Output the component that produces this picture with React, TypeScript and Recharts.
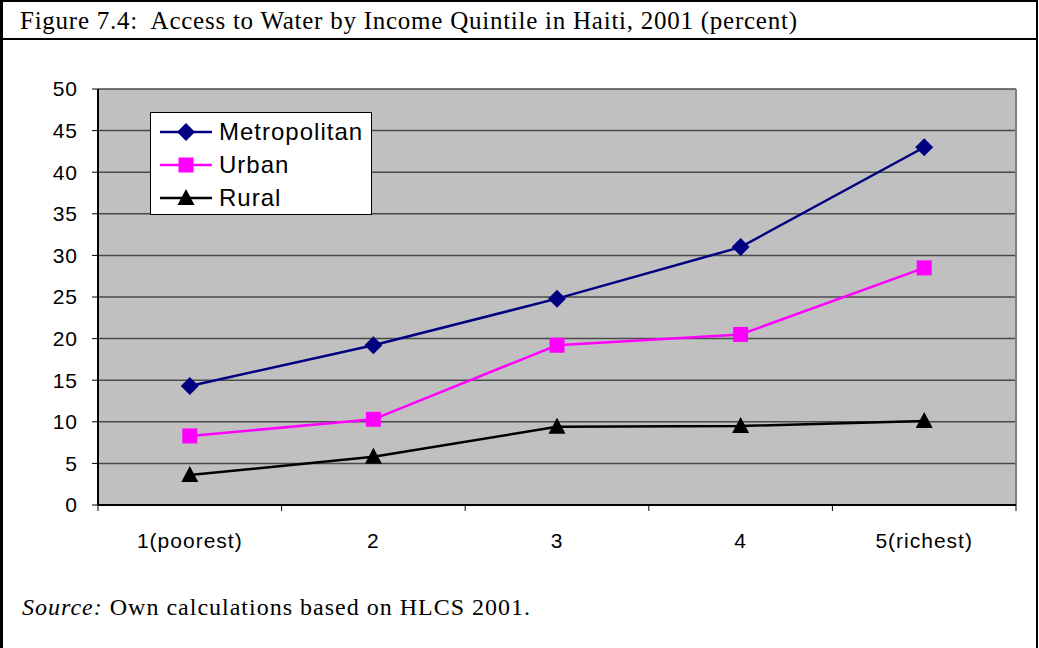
import React from "react"
import { CartesianGrid, Legend, Line, LineChart, ReferenceLine, XAxis, YAxis } from "recharts"

const quintiles = ["1(poorest)", "2", "3", "4", "5(richest)"]
const metropolitan = [14.3, 19.2, 24.8, 31.0, 43.0]
const urban = [8.3, 10.3, 19.2, 20.5, 28.5]
const rural = [3.6, 5.8, 9.4, 9.5, 10.1]
const yTicks = [0, 5, 10, 15, 20, 25, 30, 35, 40, 45, 50]

const data = quintiles.map((q, i) => ({
    quintile: q,
    pos: i + 0.5,
    metropolitan: metropolitan[i],
    urban: urban[i],
    rural: rural[i],
}))

// boundaries get tick marks, centres get the labels
const xTicks: number[] = []
for (let i = 0; i <= quintiles.length; i++) {
    xTicks.push(i)
    if (i < quintiles.length) xTicks.push(i + 0.5)
}

const axisFont = { fontFamily: "'Liberation Sans', Arial, sans-serif", fontSize: 21, letterSpacing: 1 }
const serif = "'Liberation Serif', 'Times New Roman', serif"

function Diamond({ cx, cy, fill }: any) {
    if (cx == null || cy == null) return null
    const h = 9
    return <polygon points={`${cx},${cy - h} ${cx + h},${cy} ${cx},${cy + h} ${cx - h},${cy}`} fill={fill} />
}

function Square({ cx, cy, fill }: any) {
    if (cx == null || cy == null) return null
    const s = 15
    return <rect x={cx - s / 2} y={cy - s / 2} width={s} height={s} fill={fill} />
}

function Triangle({ cx, cy, fill }: any) {
    if (cx == null || cy == null) return null
    return <polygon points={`${cx},${cy - 9} ${cx + 8.5},${cy + 7} ${cx - 8.5},${cy + 7}`} fill={fill} />
}

function XTick({ x, y, payload }: any) {
    const v = payload.value
    if (Number.isInteger(v)) {
        return <line x1={x} y1={y - 6} x2={x} y2={y} stroke="#000" strokeWidth={1} />
    }
    return (
        <text x={x} y={y + 37} textAnchor="middle" fill="#000" style={axisFont}>
            {quintiles[Math.floor(v)]}
        </text>
    )
}

const legendItems = [
    { name: "Metropolitan", color: "#000080", marker: "diamond" },
    { name: "Urban", color: "#FF00FF", marker: "square" },
    { name: "Rural", color: "#000000", marker: "triangle" },
]

function LegendBox() {
    return (
        <div style={{ width: 222, height: 103, background: "#fff", border: "1px solid #000", boxSizing: "border-box" }}>
            {legendItems.map((it, i) => (
                <div key={it.name} style={{ position: "absolute", left: 8, top: 3 + i * 33, height: 33, display: "flex", alignItems: "center" }}>
                    <svg width={56} height={24}>
                        <line x1={2} y1={12} x2={54} y2={12} stroke={it.color} strokeWidth={2.5} />
                        {it.marker === "diamond" && <Diamond cx={28} cy={12} fill={it.color} />}
                        {it.marker === "square" && <Square cx={28} cy={12} fill={it.color} />}
                        {it.marker === "triangle" && <Triangle cx={28} cy={12} fill={it.color} />}
                    </svg>
                    <span style={{ fontFamily: "'Liberation Sans', Arial, sans-serif", fontSize: 24, letterSpacing: 1, marginLeft: 5, color: "#000" }}>
                        {it.name}
                    </span>
                </div>
            ))}
        </div>
    )
}

export default function App() {
    return (
        <div style={{ position: "fixed", left: 0, top: 0, width: 1039, height: 648, background: "#fff", overflow: "hidden" }}>
            <div style={{ position: "absolute", left: 0, top: 0, width: 3, height: 648, background: "#000" }} />
            <div style={{ position: "absolute", left: 1036, top: 0, width: 2, height: 648, background: "#000" }} />
            <div style={{ position: "absolute", left: 0, top: 0, width: 1038, height: 2, background: "#000" }} />
            <div style={{ position: "absolute", left: 0, top: 38, width: 1038, height: 2, background: "#000" }} />
            <div style={{ position: "absolute", left: 20, top: 8, fontFamily: serif, fontSize: 25, letterSpacing: 0.75, lineHeight: 1, whiteSpace: "nowrap", color: "#000" }}>
                Figure 7.4:&nbsp; Access to Water by Income Quintile in Haiti, 2001 (percent)
            </div>
            <div style={{ position: "absolute", left: 22, top: 595, fontFamily: serif, fontSize: 24, letterSpacing: 1, lineHeight: 1, whiteSpace: "nowrap", color: "#000" }}>
                <i>Source:</i> Own calculations based on HLCS 2001.
            </div>
            <div style={{ position: "absolute", left: 0, top: 0 }}>
                <LineChart width={1039} height={648} data={data} margin={{ top: 89, right: 23, bottom: 93, left: 0 }}>
                    <CartesianGrid vertical={false} fill="#C0C0C0" stroke="#4a4a4a" strokeWidth={1.5} />
                    <XAxis
                        dataKey="pos"
                        type="number"
                        domain={[0, quintiles.length]}
                        ticks={xTicks}
                        interval={0}
                        tick={<XTick />}
                        tickLine={false}
                        tickSize={6}
                        tickMargin={0}
                        height={50}
                        axisLine={{ stroke: "#000", strokeWidth: 2 }}
                    />
                    <YAxis
                        domain={[0, 50]}
                        ticks={yTicks}
                        interval={0}
                        width={98}
                        tickSize={6}
                        tickMargin={14}
                        tick={{ fill: "#000", ...axisFont }}
                        tickLine={{ stroke: "#000" }}
                        axisLine={{ stroke: "#000", strokeWidth: 2 }}
                    />
                    <ReferenceLine x={quintiles.length} stroke="#808080" strokeWidth={2} />
                    <Legend
                        layout="vertical"
                        align="center"
                        verticalAlign="middle"
                        wrapperStyle={{ left: 150, top: 112, width: 222, height: 103 }}
                        content={() => <LegendBox />}
                    />
                    <Line dataKey="metropolitan" name="Metropolitan" stroke="#000080" strokeWidth={2.5} dot={<Diamond fill="#000080" />} isAnimationActive={false} />
                    <Line dataKey="urban" name="Urban" stroke="#FF00FF" strokeWidth={2.5} dot={<Square fill="#FF00FF" />} isAnimationActive={false} />
                    <Line dataKey="rural" name="Rural" stroke="#000000" strokeWidth={2.5} dot={<Triangle fill="#000000" />} isAnimationActive={false} />
                </LineChart>
            </div>
        </div>
    )
}
